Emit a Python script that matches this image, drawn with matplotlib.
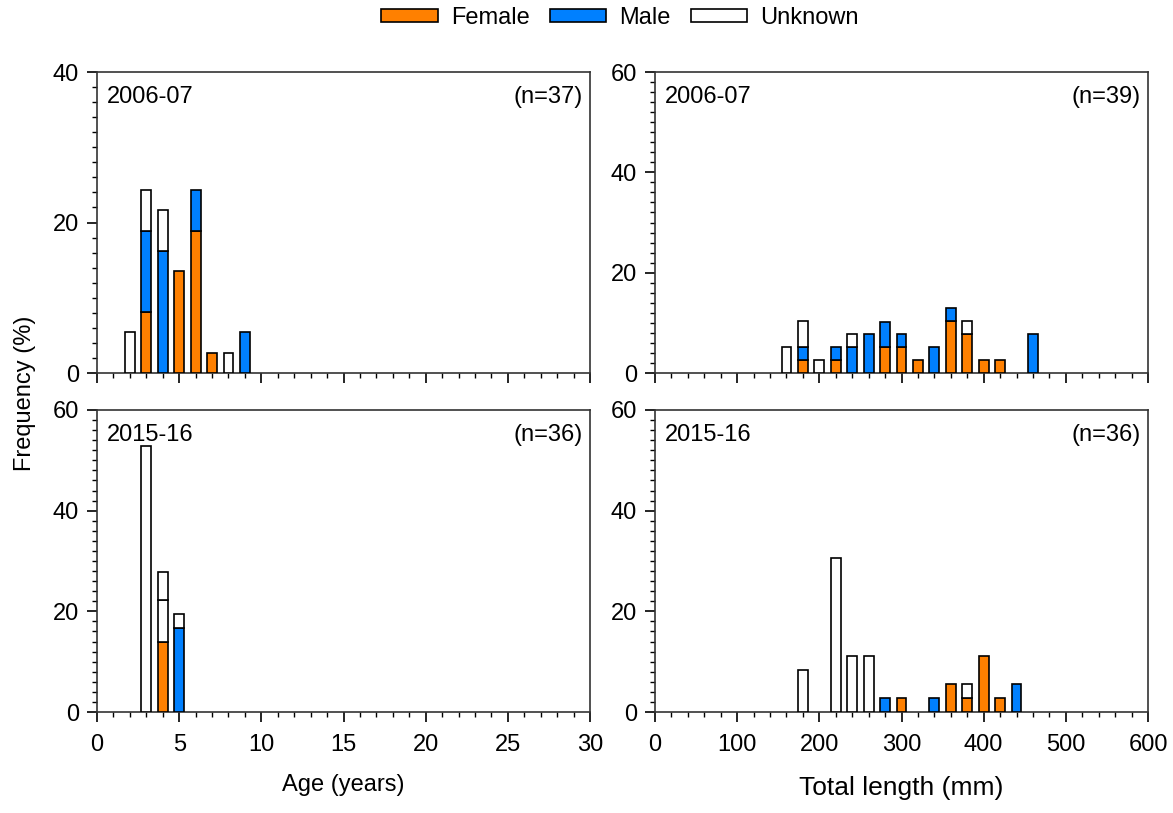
"""
年齢・全長の頻度分布（性別積み上げ棒グラフ）
"""

import matplotlib
import matplotlib.pyplot as plt
from matplotlib.ticker import MultipleLocator

matplotlib.use("Agg")

# 色
ORANGE = "#ff8000"
BLUE = "#0080ff"

# 年齢 2006-07 (n=37)
age_0607 = [2, 3, 4, 5, 6, 7, 8, 9]
age_0607_female = [0, 8.1, 0, 13.5, 18.9, 2.7, 0, 0]
age_0607_male = [0, 10.8, 16.2, 0, 5.4, 0, 0, 5.4]
age_0607_unknown = [5.4, 5.4, 5.4, 0, 0, 0, 2.7, 0]

# 年齢 2015-16 (n=36)
age_1516 = [3, 4, 5]
age_1516_female = [0, 13.9, 0]
age_1516_male = [0, 0, 16.7]
age_1516_unknown = [52.8, 8.3, 2.8]
age_1516_unknown2 = [0, 5.6, 0]

# 全長 2006-07 (n=39)
len_0607 = [160, 180, 200, 220, 240, 260, 280, 300, 320, 340, 360, 380, 400, 420, 460]
len_0607_female = [0, 2.6, 0, 2.6, 0, 0, 5.1, 5.1, 2.6, 0, 10.3, 7.7, 2.6, 2.6, 0]
len_0607_male = [0, 2.6, 0, 2.6, 5.1, 7.7, 5.1, 2.6, 0, 5.1, 2.6, 0, 0, 0, 7.7]
len_0607_unknown = [5.1, 5.1, 2.6, 0, 2.6, 0, 0, 0, 0, 0, 0, 2.6, 0, 0, 0]

# 全長 2015-16 (n=36)
len_1516 = [180, 220, 240, 260, 280, 300, 340, 360, 380, 400, 420, 440]
len_1516_female = [0, 0, 0, 0, 0, 2.8, 0, 5.6, 2.8, 11.1, 2.8, 0]
len_1516_male = [0, 0, 0, 0, 2.8, 0, 2.8, 0, 0, 0, 0, 5.6]
len_1516_unknown = [8.3, 30.6, 11.1, 11.1, 0, 0, 0, 0, 2.8, 0, 0, 0]

plt.rcParams["font.family"] = ["Liberation Sans", "DejaVu Sans"]
plt.rcParams["font.size"] = 17


def stack_bars(ax, x, layers, width):
    """積み上げ棒を描画（値0のセグメントは描かない）"""
    bottom = [0] * len(x)
    for vals, color in layers:
        xs = [xi for xi, v in zip(x, vals) if v > 0]
        hs = [v for v in vals if v > 0]
        bs = [b for b, v in zip(bottom, vals) if v > 0]
        ax.bar(xs, hs, bottom=bs, width=width, color=color,
               edgecolor="black", linewidth=1.2, zorder=3)
        bottom = [b + v for b, v in zip(bottom, vals)]


def style_axis(ax, xmax, xmajor, xminor, ymax, period, n, xlabels):
    ax.set_xlim(0, xmax)
    ax.set_ylim(0, ymax)
    ax.xaxis.set_major_locator(MultipleLocator(xmajor))
    ax.xaxis.set_minor_locator(MultipleLocator(xminor))
    ax.yaxis.set_major_locator(MultipleLocator(20))
    ax.yaxis.set_minor_locator(MultipleLocator(2))
    ax.tick_params(which="major", direction="out", length=7, width=1.2,
                   top=False, right=False, labelsize=17, pad=6)
    ax.tick_params(which="minor", direction="out", length=3.5, width=1,
                   top=False, right=False)
    ax.tick_params(axis="x", labelbottom=xlabels, pad=9)
    for s in ax.spines.values():
        s.set_linewidth(1.2)
        s.set_color("#333333")
    ax.text(0.02, 0.955, period, transform=ax.transAxes, ha="left", va="top",
            fontsize=17)
    ax.text(0.985, 0.955, f"(n={n})", transform=ax.transAxes, ha="right",
            va="top", fontsize=17)


fig = plt.figure(figsize=(11.73, 8.13), dpi=100)
ax1 = fig.add_axes([0.0827, 0.5412, 0.4203, 0.3702])
ax2 = fig.add_axes([0.5584, 0.5412, 0.4203, 0.3702])
ax3 = fig.add_axes([0.0827, 0.1242, 0.4203, 0.3715])
ax4 = fig.add_axes([0.5584, 0.1242, 0.4203, 0.3715])

stack_bars(ax1, age_0607, [(age_0607_female, ORANGE), (age_0607_male, BLUE),
                           (age_0607_unknown, "white")], 0.6)
stack_bars(ax3, age_1516, [(age_1516_female, ORANGE), (age_1516_male, BLUE),
                           (age_1516_unknown, "white"), (age_1516_unknown2, "white")], 0.6)
stack_bars(ax2, len_0607, [(len_0607_female, ORANGE), (len_0607_male, BLUE),
                           (len_0607_unknown, "white")], 12)
stack_bars(ax4, len_1516, [(len_1516_female, ORANGE), (len_1516_male, BLUE),
                           (len_1516_unknown, "white")], 12)

style_axis(ax1, 30, 5, 1, 40, "2006-07", 37, False)
style_axis(ax3, 30, 5, 1, 60, "2015-16", 36, True)
style_axis(ax2, 600, 100, 20, 60, "2006-07", 39, False)
style_axis(ax4, 600, 100, 20, 60, "2015-16", 36, True)

# 軸ラベル
fig.text(0.021, 0.516, "Frequency (%)", rotation=90, ha="center", va="center",
         fontsize=17)
fig.text(0.293, 0.035, "Age (years)", ha="center", va="center", fontsize=17)
fig.text(0.768, 0.031, "Total length (mm)", ha="center", va="center", fontsize=19)

# 凡例
handles = [plt.Rectangle((0, 0), 1, 1, facecolor=c, edgecolor="black", linewidth=1.2)
           for c in (ORANGE, BLUE, "white")]
fig.legend(handles, ["Female", "Male", "Unknown"], loc="center",
           bbox_to_anchor=(0.5286, 0.978), ncol=3, frameon=False, fontsize=17,
           handlelength=2.4, handleheight=0.42, columnspacing=0.85, handletextpad=0.55)

plt.savefig("out.png", dpi=100)
plt.close()
